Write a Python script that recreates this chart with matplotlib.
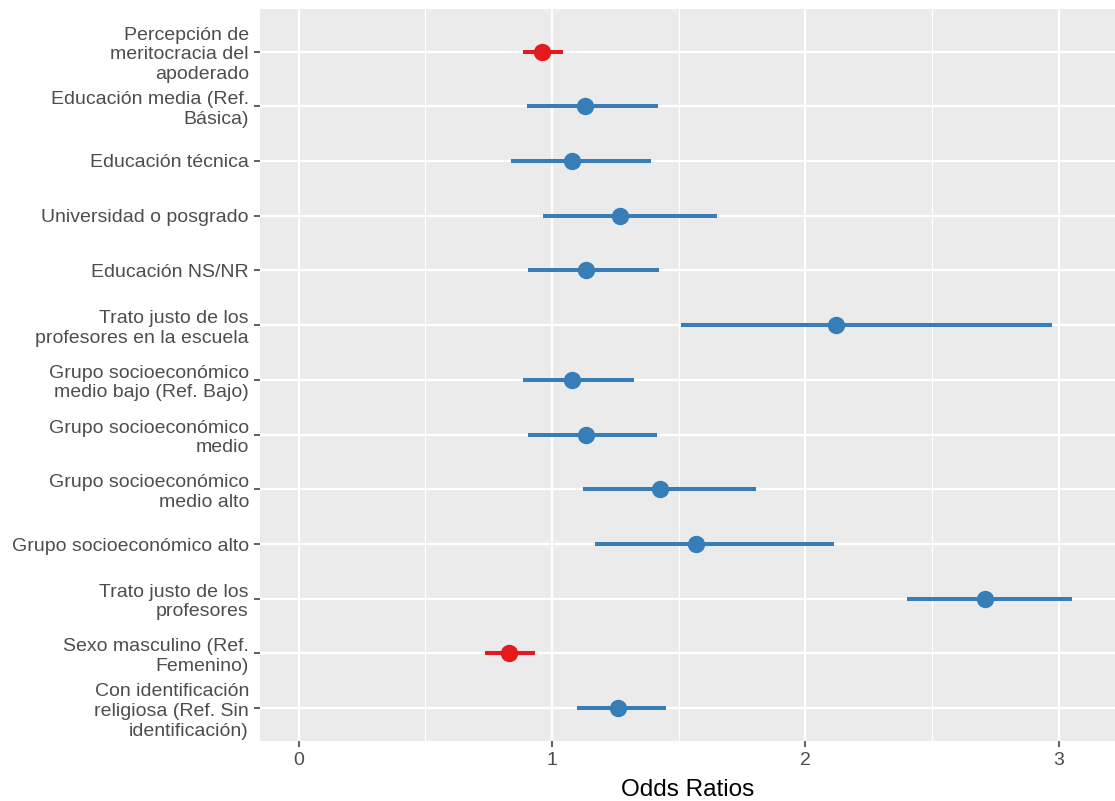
import matplotlib
matplotlib.use("Agg")
import matplotlib.pyplot as plt
from matplotlib.ticker import MultipleLocator

labels = [
    "Percepción de\nmeritocracia del\napoderado",
    "Educación media (Ref.\nBásica)",
    "Educación técnica",
    "Universidad o posgrado",
    "Educación NS/NR",
    "Trato justo de los\nprofesores en la escuela",
    "Grupo socioeconómico\nmedio bajo (Ref. Bajo)",
    "Grupo socioeconómico\nmedio",
    "Grupo socioeconómico\nmedio alto",
    "Grupo socioeconómico alto",
    "Trato justo de los\nprofesores",
    "Sexo masculino (Ref.\nFemenino)",
    "Con identificación\nreligiosa (Ref. Sin\nidentificación)",
]
odds = [0.96, 1.13, 1.08, 1.27, 1.135, 2.12, 1.08, 1.135, 1.425, 1.57, 2.71, 0.83, 1.26]
lower = [0.885, 0.903, 0.84, 0.966, 0.907, 1.51, 0.888, 0.907, 1.124, 1.172, 2.403, 0.738, 1.101]
upper = [1.045, 1.42, 1.393, 1.653, 1.424, 2.976, 1.325, 1.416, 1.807, 2.114, 3.053, 0.935, 1.452]
xticks = [0, 1, 2, 3]

BLUE = "#377EB8"
RED = "#E41A1C"

fig = plt.figure(figsize=(11.15, 8.01), dpi=100)
ax = fig.add_axes([260/1115, 1-741/801, 1-260/1115, (741-9)/801])
ax.set_facecolor("#EBEBEB")
for s in ax.spines.values():
    s.set_visible(False)

ypos = list(range(len(labels)))
for y, o, lo, hi in zip(ypos, odds, lower, upper):
    c = RED if o < 1 else BLUE
    ax.plot([lo, hi], [y, y], color=c, lw=2.9, solid_capstyle="butt", zorder=3)
    ax.plot([o], [y], marker="o", ms=11.5, color=c, mec=c, zorder=4)

ax.set_xlim(-0.152, 3.223)
ax.set_ylim(len(labels) - 1 + 0.6, -0.777)
ax.set_xticks(xticks)
ax.set_xticklabels([str(t) for t in xticks])
ax.xaxis.set_minor_locator(MultipleLocator(0.5))
ax.set_yticks(ypos)
ax.set_yticklabels(labels, linespacing=1.2)

ax.grid(which="major", color="white", lw=1.6, zorder=0)
ax.grid(which="minor", axis="x", color="white", lw=0.9, zorder=0)
ax.set_axisbelow(True)
ax.tick_params(which="minor", length=0)
ax.tick_params(which="major", length=4, width=1.1, color="#333333",
               labelcolor="#4D4D4D", labelsize=14, pad=4)
for t in ax.get_yticklabels():
    t.set_fontfamily("Liberation Sans")
for t in ax.get_xticklabels():
    t.set_fontfamily("Liberation Sans")

ax.set_xlabel("Odds Ratios", fontsize=17.5, family="Liberation Sans", color="black", labelpad=7)

fig.savefig("out.png", dpi=100)
